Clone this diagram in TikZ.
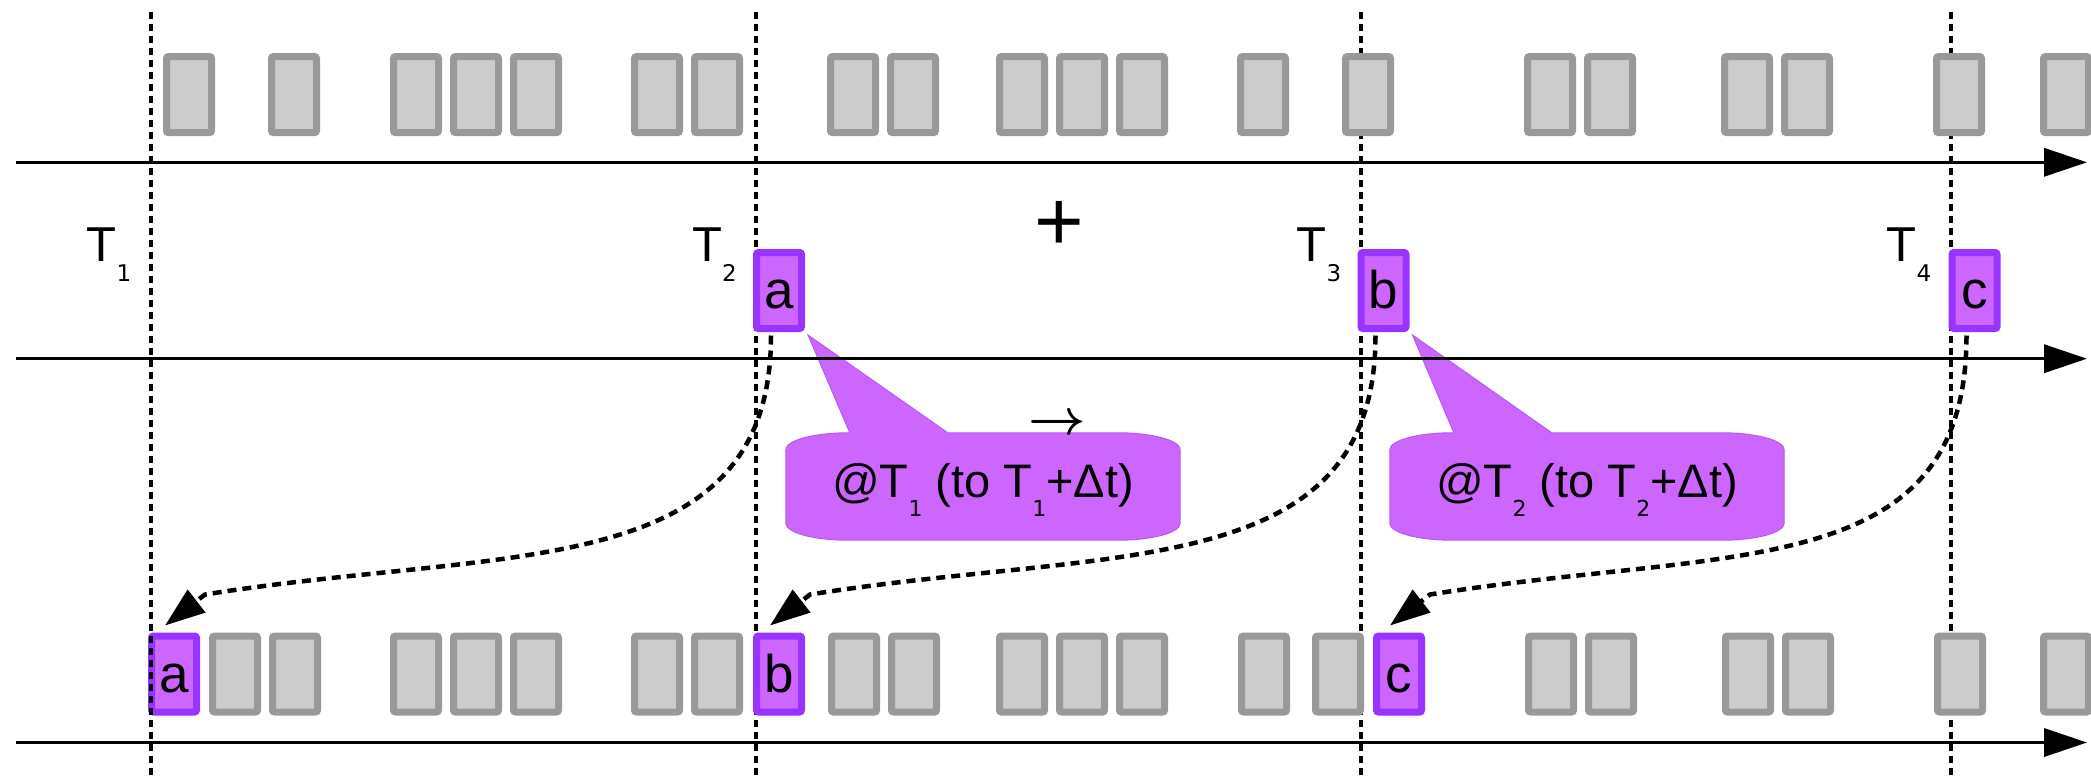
\documentclass[tikz,border=0pt]{standalone}
\usepackage{fontspec}
\usepackage{graphicx}
\setmainfont{Liberation Sans}
\newfontfamily\subfont{DejaVu Sans}
\usetikzlibrary{arrows.meta,calc,backgrounds}

\definecolor{blkgray}{HTML}{999999}
\definecolor{blkfill}{HTML}{CCCCCC}
\definecolor{evline}{HTML}{9933FF}
\definecolor{evfill}{HTML}{CC66FF}
\definecolor{coline}{HTML}{B05CF5}

% lowered small index: drop, size, text
\newcommand{\lowsub}[3]{\raisebox{-#1pt}{\subfont\fontsize{#2}{#2}\selectfont #3}}

\tikzset{
  blk/.style={draw=blkgray, fill=blkfill, line width=7pt, rounded corners=2pt,
    minimum width=45pt, minimum height=76pt, inner sep=0pt},
  ev/.style={blk, draw=evline, fill=evfill, font=\fontsize{53}{53}\selectfont,
    text height=36pt, text depth=0pt},
  axis/.style={line width=3.5pt, -{Triangle[length=43pt,width=28pt]}},
  tline/.style={line width=4pt, dash pattern=on 7pt off 5pt},
  flow/.style={line width=4.5pt, dash pattern=on 9pt off 6pt,
    -{Triangle[length=40pt,width=28pt]}},
  tlabel/.style={anchor=base west, inner sep=0pt, font=\fontsize{49}{49}\selectfont},
  coshape/.style={minimum width=394pt, minimum height=107pt, inner sep=0pt,
    font=\fontsize{47}{47}\selectfont, text height=32pt, text depth=11pt},
}

\begin{document}
\begin{tikzpicture}[x=1pt, y=-1pt]
\useasboundingbox (0,0) rectangle (2091,777);

% time marks T2..T4 (behind the blocks)
\foreach \n/\x in {2/756, 3/1360.5, 4/1950.5} {
  \coordinate (v\n top) at (\x,12);
  \coordinate (v\n bot) at (\x,777);
  \draw[tline] (v\n top) -- (v\n bot);
}

% time axes
\foreach \n/\y in {1/162.3, 2/358.7, 3/742.5} {
  \coordinate (ax\n s) at (16,\y);
  \coordinate (ax\n e) at (2087,\y);
  \draw[axis] (ax\n s) -- (ax\n e);
}

% upper stream of blocks
\foreach \x [count=\i] in {189,294,416,476,536,657,717,853,913,1022,1082,1142,
    1263,1368,1550,1610,1747,1807,1959,2066}
  \node[blk] (top\i) at (\x,94.6) {};

% incoming events
\node[ev] (amid) at (779,290.5) {a};
\node[ev] (bmid) at (1383.5,290.5) {b};
\node[ev] (cmid) at (1974.5,290.5) {c};

% merged stream
\foreach \x [count=\i] in {235,295,416,476,536,657,717,854,914,1022,1082,1142,
    1264,1338,1551,1611,1748,1808,1960,2066}
  \node[blk] (bot\i) at (\x,674) {};
\node[ev] (abot) at (174,674) {a};
\node[ev] (bbot) at (779,674) {b};
\node[ev] (cbot) at (1399,674) {c};

% time mark T1 (in front)
\coordinate (v1top) at (150.7,12);
\coordinate (v1bot) at (150.7,777);
\draw[tline] (v1top) -- (v1bot);

% time labels
\node[tlabel] (t1) at (86.5,261) {T\lowsub{20}{23}{1}};
\node[tlabel] (t2) at (692,261) {T\lowsub{20}{23}{2}};
\node[tlabel] (t3) at (1296.5,261) {T\lowsub{20}{23}{3}};
\node[tlabel] (t4) at (1886.5,261) {T\lowsub{20}{23}{4}};

\node (plus) at (1059,226) {\fontsize{85}{85}\selectfont +};

% callouts
\node[coshape] (co1) at (983,486.5) {};
\node[coshape] (co2) at (1587,486.5) {};
\begin{scope}[on background layer]
\foreach \co/\ev in {co1/amid, co2/bmid} {
  \filldraw[draw=coline, line width=1pt, fill=evfill]
    ([xshift=62pt]\co.north west) -- ([xshift=64pt]\co.north west)
    -- ([xshift=3pt,yshift=-3pt]\ev.south east)
    -- ([xshift=162pt]\co.north west) -- ([xshift=-62pt]\co.north east)
    arc[start angle=90, end angle=0, x radius=62pt, y radius=17pt]
    -- ([yshift=17pt]\co.south east)
    arc[start angle=0, end angle=-90, x radius=62pt, y radius=17pt]
    -- ([xshift=62pt]\co.south west)
    arc[start angle=270, end angle=180, x radius=62pt, y radius=17pt]
    -- ([yshift=-17pt]\co.north west)
    arc[start angle=180, end angle=90, x radius=62pt, y radius=17pt]
    -- cycle;
}
\end{scope}
\node[coshape] (co1txt) at (co1.center) {@T\lowsub{19}{22}{1} (to T\lowsub{19}{22}{1}+Δt)};
\node[coshape] (co2txt) at (co2.center) {@T\lowsub{19}{22}{2} (to T\lowsub{19}{22}{2}+Δt)};

\node[inner sep=0pt] (arr) at (1057,425) {\scalebox{5}{\fontsize{10}{10}\selectfont\boldmath$\rightarrow$}};

% re-timestamped events
\foreach \s/\e in {amid/abot, bmid/bbot, cmid/cbot}
  \draw[flow] ($(\s.south)+(-8,3.5)$)
    .. controls ($(\s.south)+(-8,252)$) and ($(\e.north)+(331,-86)$)
    .. ($(\e.north)+(31,-38)$) -- ($(\e.north)+(-9,-7)$);
\end{tikzpicture}
\end{document}
